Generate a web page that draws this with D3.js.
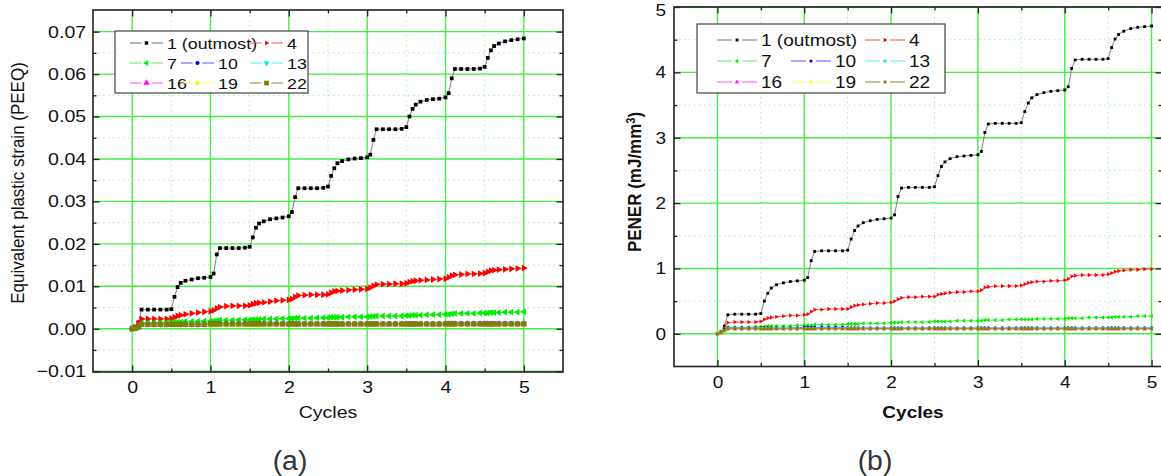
<!DOCTYPE html>
<html>
<head>
<meta charset="utf-8">
<script src="https://cdn.jsdelivr.net/npm/d3@7"></script>
<style>
  body { margin: 0; background: #fff; }
  svg { display: block; font-family: "Liberation Sans", Arial, sans-serif; }
</style>
</head>
<body>
<svg id="fig" width="1161" height="476"></svg>
<script>
// time points (cycles) of the FE output
const cycles = [
  0,0.04,0.08,0.12,0.2,0.28,0.36,0.44,0.5,0.54,0.58,0.62,0.68,0.76,0.84,0.92,
  1,1.04,1.08,1.12,1.2,1.28,1.36,1.44,1.5,1.54,1.58,1.62,1.68,1.76,1.84,1.92,
  2,2.04,2.08,2.12,2.2,2.28,2.36,2.44,2.5,2.54,2.58,2.62,2.68,2.76,2.84,2.92,
  3,3.04,3.08,3.12,3.2,3.28,3.36,3.44,3.5,3.54,3.58,3.62,3.68,3.76,3.84,3.92,
  4,4.04,4.08,4.12,4.2,4.28,4.36,4.44,4.5,4.54,4.58,4.62,4.68,4.76,4.84,4.92,
  5
]

const layers = ['1 (outmost)','4','7','10','13','16','19','22']
const colours = ['#000000','#ff0000','#00ee00','#0000ff','#00e8ff','#ff00ff','#ffff00','#808000']
const lineColours = ['#707070','#ff5050','#50f050','#5050ff','#50f0ff','#ff50ff','#ffff50','#8a8a30']
const shapes = ['square','triR','triL','circle','triD','triU','circle','square']

// (a) PEEQ
const peeq1 = [
  0,0.0005,0.0015,0.0045,0.0045,0.0045,0.0045,0.0045,0.0046,0.0075,0.0098,0.0108,0.0113,0.0116,0.0119,0.012,
  0.0122,0.013,0.0175,0.019,0.019,0.019,0.019,0.0191,0.0193,0.0215,0.0238,0.0248,0.0253,0.0258,0.026,0.0262,
  0.0265,0.0275,0.031,0.0331,0.0331,0.0331,0.0331,0.0332,0.0335,0.036,0.0378,0.039,0.0395,0.0399,0.0401,0.0402,
  0.0404,0.041,0.0445,0.047,0.047,0.047,0.047,0.0471,0.0475,0.05,0.0518,0.0528,0.0535,0.0539,0.0541,0.0542,
  0.0545,0.0555,0.059,0.0612,0.0612,0.0612,0.0612,0.0613,0.0617,0.0638,0.0656,0.0666,0.0672,0.0677,0.068,0.0682,
  0.0684
]
const peeq4 = [
  0,0.0003,0.0012,0.0023,0.0023,0.0023,0.0023,0.0023,0.0024,0.0027,0.003,0.0032,0.0034,0.0036,0.0038,0.004,
  0.0041,0.0043,0.0048,0.0051,0.0053,0.0054,0.0054,0.0054,0.0055,0.0058,0.006,0.0061,0.0062,0.0064,0.0066,0.0067,
  0.0068,0.007,0.0075,0.0078,0.0079,0.008,0.008,0.008,0.0081,0.0085,0.0088,0.0089,0.009,0.0091,0.0092,0.0093,
  0.0094,0.0097,0.0101,0.0104,0.0105,0.0105,0.0106,0.0106,0.0107,0.011,0.0112,0.0113,0.0114,0.0115,0.0116,0.0117,
  0.0118,0.0121,0.0125,0.0127,0.0128,0.0129,0.0129,0.013,0.0131,0.0134,0.0137,0.0138,0.0139,0.014,0.0141,0.0142,
  0.0143
]
const peeq7 = [
  0,0.0002,0.0006,0.0013,0.0014,0.0014,0.0015,0.0015,0.0015,0.0016,0.0016,0.0016,0.0017,0.0017,0.0017,0.0018,
  0.0018,0.0018,0.0019,0.002,0.002,0.002,0.0021,0.0021,0.0021,0.0022,0.0022,0.0022,0.0023,0.0023,0.0023,0.0024,
  0.0024,0.0024,0.0025,0.0025,0.0025,0.0025,0.0026,0.0026,0.0026,0.0027,0.0027,0.0027,0.0027,0.0028,0.0028,0.0028,
  0.0028,0.0029,0.0029,0.003,0.003,0.003,0.003,0.003,0.0031,0.0031,0.0032,0.0032,0.0032,0.0033,0.0033,0.0033,
  0.0034,0.0034,0.0035,0.0036,0.0036,0.0036,0.0036,0.0037,0.0037,0.0037,0.0038,0.0038,0.0038,0.0039,0.0039,0.0039,
  0.004
]
const peeq10 = [
  0,0.0002,0.0006,0.0011,0.0011,0.0011,0.0011,0.0011,0.0011,0.0011,0.0011,0.0011,0.0011,0.0011,0.0011,0.0011,
  0.0012,0.0012,0.0012,0.0012,0.0012,0.0012,0.0012,0.0012,0.0012,0.0012,0.0012,0.0012,0.0012,0.0012,0.0012,0.0012,
  0.0012,0.0012,0.0012,0.0012,0.0012,0.0012,0.0012,0.0012,0.0012,0.0012,0.0012,0.0012,0.0012,0.0012,0.0012,0.0012,
  0.0012,0.0012,0.0012,0.0012,0.0012,0.0012,0.0012,0.0012,0.0012,0.0012,0.0012,0.0012,0.0012,0.0012,0.0012,0.0012,
  0.0013,0.0013,0.0013,0.0013,0.0013,0.0013,0.0013,0.0013,0.0013,0.0013,0.0013,0.0013,0.0013,0.0013,0.0013,0.0013,
  0.0013
]
const peeq13 = [
  0,0.0002,0.0005,0.001,0.001,0.001,0.001,0.001,0.001,0.001,0.001,0.001,0.001,0.001,0.001,0.001,
  0.0011,0.0011,0.0011,0.0011,0.0011,0.0011,0.0011,0.0011,0.0011,0.0011,0.0011,0.0011,0.0011,0.0011,0.0011,0.0011,
  0.0011,0.0011,0.0011,0.0011,0.0011,0.0011,0.0011,0.0011,0.0011,0.0011,0.0011,0.0011,0.0011,0.0011,0.0011,0.0011,
  0.0011,0.0011,0.0011,0.0011,0.0011,0.0011,0.0011,0.0011,0.0011,0.0011,0.0011,0.0011,0.0011,0.0011,0.0011,0.0011,
  0.0012,0.0012,0.0012,0.0012,0.0012,0.0012,0.0012,0.0012,0.0012,0.0012,0.0012,0.0012,0.0012,0.0012,0.0012,0.0012,
  0.0012
]
const peeq16 = [
  0,0.0001,0.0004,0.0009,0.0009,0.0009,0.0009,0.0009,0.0009,0.0009,0.0009,0.0009,0.0009,0.0009,0.0009,0.0009,
  0.001,0.001,0.001,0.001,0.001,0.001,0.001,0.001,0.001,0.001,0.001,0.001,0.001,0.001,0.001,0.001,
  0.001,0.001,0.001,0.001,0.001,0.001,0.001,0.001,0.001,0.001,0.001,0.001,0.001,0.001,0.001,0.001,
  0.001,0.001,0.001,0.001,0.001,0.001,0.001,0.001,0.001,0.001,0.001,0.001,0.001,0.001,0.001,0.001,
  0.0011,0.0011,0.0011,0.0011,0.0011,0.0011,0.0011,0.0011,0.0011,0.0011,0.0011,0.0011,0.0011,0.0011,0.0011,0.0011,
  0.0011
]
const peeq19 = [
  0,0.0001,0.0004,0.0009,0.0009,0.0009,0.0009,0.0009,0.0009,0.0009,0.0009,0.0009,0.0009,0.0009,0.0009,0.0009,
  0.0009,0.0009,0.0009,0.0009,0.0009,0.0009,0.0009,0.0009,0.0009,0.0009,0.0009,0.0009,0.0009,0.0009,0.0009,0.0009,
  0.001,0.001,0.001,0.001,0.001,0.001,0.001,0.001,0.001,0.001,0.001,0.001,0.001,0.001,0.001,0.001,
  0.001,0.001,0.001,0.001,0.001,0.001,0.001,0.001,0.001,0.001,0.001,0.001,0.001,0.001,0.001,0.001,
  0.001,0.001,0.001,0.001,0.001,0.001,0.001,0.001,0.001,0.001,0.001,0.001,0.001,0.001,0.001,0.001,
  0.001
]
const peeq22 = [
  0,0.0001,0.0004,0.001,0.001,0.001,0.001,0.001,0.001,0.001,0.001,0.001,0.001,0.001,0.001,0.001,
  0.0011,0.0011,0.0011,0.0011,0.0011,0.0011,0.0011,0.0011,0.0011,0.0011,0.0011,0.0011,0.0011,0.0011,0.0011,0.0011,
  0.0011,0.0011,0.0011,0.0011,0.0011,0.0011,0.0011,0.0011,0.0011,0.0011,0.0011,0.0011,0.0011,0.0011,0.0011,0.0011,
  0.0011,0.0011,0.0011,0.0011,0.0011,0.0011,0.0011,0.0011,0.0011,0.0011,0.0011,0.0011,0.0011,0.0011,0.0011,0.0011,
  0.0011,0.0011,0.0011,0.0011,0.0011,0.0011,0.0011,0.0011,0.0011,0.0011,0.0011,0.0011,0.0011,0.0011,0.0011,0.0011,
  0.0011
]

// (b) PENER, mJ/mm3
const pener1 = [
  0,0.03,0.12,0.29,0.3,0.3,0.3,0.3,0.31,0.5,0.62,0.7,0.75,0.78,0.8,0.81,
  0.82,0.86,1.12,1.26,1.27,1.27,1.27,1.27,1.28,1.45,1.58,1.65,1.7,1.73,1.75,1.76,
  1.77,1.82,2.1,2.23,2.24,2.24,2.24,2.24,2.25,2.42,2.56,2.63,2.68,2.71,2.72,2.73,
  2.74,2.79,3.08,3.21,3.22,3.22,3.22,3.22,3.23,3.4,3.53,3.61,3.66,3.69,3.71,3.72,
  3.73,3.78,4.06,4.19,4.2,4.2,4.2,4.2,4.21,4.38,4.51,4.58,4.63,4.67,4.69,4.7,
  4.71
]
const pener4 = [
  0,0.02,0.08,0.17,0.18,0.18,0.18,0.18,0.19,0.22,0.24,0.25,0.26,0.27,0.28,0.28,
  0.29,0.3,0.34,0.37,0.37,0.38,0.38,0.38,0.38,0.41,0.43,0.44,0.45,0.46,0.47,0.47,
  0.48,0.5,0.53,0.55,0.56,0.56,0.57,0.57,0.57,0.6,0.61,0.62,0.63,0.64,0.64,0.65,
  0.65,0.67,0.71,0.72,0.73,0.73,0.73,0.73,0.74,0.76,0.78,0.79,0.8,0.8,0.81,0.81,
  0.82,0.84,0.88,0.89,0.9,0.9,0.9,0.9,0.91,0.93,0.95,0.96,0.97,0.98,0.98,0.99,
  0.99
]
const pener7 = [
  0,0.02,0.06,0.1,0.1,0.1,0.1,0.11,0.11,0.11,0.12,0.12,0.12,0.12,0.12,0.13,
  0.13,0.13,0.13,0.14,0.14,0.14,0.14,0.14,0.15,0.15,0.15,0.15,0.16,0.16,0.16,0.16,
  0.17,0.17,0.17,0.18,0.18,0.18,0.18,0.18,0.19,0.19,0.19,0.19,0.19,0.2,0.2,0.2,
  0.2,0.2,0.21,0.21,0.21,0.21,0.22,0.22,0.22,0.22,0.22,0.22,0.23,0.23,0.23,0.23,
  0.23,0.24,0.24,0.24,0.24,0.25,0.25,0.25,0.25,0.25,0.26,0.26,0.26,0.26,0.27,0.27,
  0.27
]
const pener10 = [
  0,0.02,0.06,0.09,0.09,0.09,0.09,0.09,0.09,0.09,0.09,0.09,0.09,0.09,0.09,0.09,
  0.1,0.1,0.1,0.1,0.1,0.1,0.1,0.1,0.09,0.09,0.09,0.09,0.09,0.09,0.09,0.09,
  0.09,0.09,0.09,0.09,0.09,0.09,0.09,0.09,0.09,0.09,0.09,0.09,0.09,0.09,0.09,0.09,
  0.09,0.09,0.09,0.09,0.09,0.09,0.09,0.09,0.09,0.09,0.09,0.09,0.09,0.09,0.09,0.09,
  0.09,0.09,0.09,0.09,0.09,0.09,0.09,0.09,0.09,0.09,0.09,0.09,0.09,0.09,0.09,0.09,
  0.09
]
const pener13 = [
  0,0.02,0.05,0.085,0.085,0.085,0.085,0.085,0.085,0.085,0.085,0.085,0.085,0.085,0.085,0.085,
  0.085,0.085,0.085,0.085,0.085,0.085,0.085,0.085,0.085,0.085,0.085,0.085,0.085,0.085,0.085,0.085,
  0.085,0.085,0.085,0.085,0.085,0.085,0.085,0.085,0.085,0.085,0.085,0.085,0.085,0.085,0.085,0.085,
  0.085,0.085,0.085,0.085,0.085,0.085,0.085,0.085,0.085,0.085,0.085,0.085,0.085,0.085,0.085,0.085,
  0.085,0.085,0.085,0.085,0.085,0.085,0.085,0.085,0.085,0.085,0.085,0.085,0.085,0.085,0.085,0.085,
  0.085
]
const pener16 = [
  0,0.01,0.04,0.07,0.07,0.07,0.07,0.07,0.07,0.07,0.07,0.07,0.07,0.07,0.07,0.07,
  0.07,0.07,0.07,0.07,0.07,0.07,0.07,0.07,0.07,0.07,0.07,0.07,0.07,0.07,0.07,0.07,
  0.07,0.07,0.07,0.07,0.07,0.07,0.07,0.07,0.07,0.07,0.07,0.07,0.07,0.07,0.07,0.07,
  0.07,0.07,0.07,0.07,0.07,0.07,0.07,0.07,0.07,0.07,0.07,0.07,0.07,0.07,0.07,0.07,
  0.07,0.07,0.07,0.07,0.07,0.07,0.07,0.07,0.07,0.07,0.07,0.07,0.07,0.07,0.07,0.07,
  0.07
]
const pener19 = [
  0,0.01,0.045,0.075,0.075,0.075,0.075,0.075,0.075,0.075,0.075,0.075,0.075,0.075,0.075,0.075,
  0.075,0.075,0.075,0.075,0.075,0.075,0.075,0.075,0.075,0.075,0.075,0.075,0.075,0.075,0.075,0.075,
  0.075,0.075,0.075,0.075,0.075,0.075,0.075,0.075,0.075,0.075,0.075,0.075,0.075,0.075,0.075,0.075,
  0.075,0.075,0.075,0.075,0.075,0.075,0.075,0.075,0.075,0.075,0.075,0.075,0.075,0.075,0.075,0.075,
  0.075,0.075,0.075,0.075,0.075,0.075,0.075,0.075,0.075,0.075,0.075,0.075,0.075,0.075,0.075,0.075,
  0.075
]
const pener22 = [
  0,0.015,0.05,0.08,0.08,0.08,0.08,0.08,0.08,0.08,0.08,0.08,0.08,0.08,0.08,0.08,
  0.08,0.08,0.08,0.08,0.08,0.08,0.08,0.08,0.08,0.08,0.08,0.08,0.08,0.08,0.08,0.08,
  0.08,0.08,0.08,0.08,0.08,0.08,0.08,0.08,0.08,0.08,0.08,0.08,0.08,0.08,0.08,0.08,
  0.08,0.08,0.08,0.08,0.08,0.08,0.08,0.08,0.08,0.08,0.08,0.08,0.08,0.08,0.08,0.08,
  0.08,0.08,0.08,0.08,0.08,0.08,0.08,0.08,0.08,0.08,0.08,0.08,0.08,0.08,0.08,0.08,
  0.08
]

const peeq = [peeq1, peeq4, peeq7, peeq10, peeq13, peeq16, peeq19, peeq22]
const pener = [pener1, pener4, pener7, pener10, pener13, pener16, pener19, pener22]

// ticks
const cycleTicks = [0, 1, 2, 3, 4, 5]
const cycleMinor = [0.5, 1.5, 2.5, 3.5, 4.5]
const peeqTicks = [-0.01, 0, 0.01, 0.02, 0.03, 0.04, 0.05, 0.06, 0.07]
const peeqMinor = [-0.005, 0.005, 0.015, 0.025, 0.035, 0.045, 0.055, 0.065]
const penerTicks = [0, 1, 2, 3, 4, 5]
const penerMinor = [0.5, 1.5, 2.5, 3.5, 4.5]

const svg = d3.select('#fig')
const FONT = '"Liberation Sans", Arial, sans-serif'

const symbolPath = (shape, size) => {
  const type = shape == 'square' ? d3.symbolSquare : shape == 'circle' ? d3.symbolCircle : d3.symbolTriangle
  return d3.symbol().type(type).size(size)()
}
const rotation = { triR: 90, triL: -90, triD: 180, triU: 0, square: 0, circle: 0 }

const drawPanel = p => {
  const g = svg.append('g')
  const x = d3.scaleLinear().domain(p.xDomain).range([p.left, p.right])
  const y = d3.scaleLinear().domain(p.yDomain).range([p.bottom, p.top])

  // grid
  const grid = g.append('g')
  grid.selectAll('.vmin').data(p.xMinor).enter().append('line')
    .attr('x1', x).attr('x2', x).attr('y1', p.top).attr('y2', p.bottom)
    .attr('stroke', '#a8eea8').attr('stroke-width', 1).attr('stroke-dasharray', '1.5,3.5')
  grid.selectAll('.hmin').data(p.yMinor).enter().append('line')
    .attr('y1', y).attr('y2', y).attr('x1', p.left).attr('x2', p.right)
    .attr('stroke', '#a8eea8').attr('stroke-width', 1).attr('stroke-dasharray', '1.5,3.5')
  grid.selectAll('.vmaj').data(p.xTicks).enter().append('line')
    .attr('x1', x).attr('x2', x).attr('y1', p.top).attr('y2', p.bottom)
    .attr('stroke', '#44ee44').attr('stroke-width', 1.4)
  grid.selectAll('.hmaj').data(p.yTicks.filter(v => v > p.yDomain[0] + 1e-9)).enter().append('line')
    .attr('y1', y).attr('y2', y).attr('x1', p.left).attr('x2', p.right)
    .attr('stroke', '#44ee44').attr('stroke-width', 1.4)

  // series
  const line = d3.line().x(d => x(d[0])).y(d => y(d[1]))
  p.values.forEach((vals, i) => {
    const pts = cycles.map((c, k) => [c, vals[k]])
    g.append('path').datum(pts)
      .attr('d', line).attr('fill', 'none')
      .attr('stroke', lineColours[i]).attr('stroke-width', 0.9)
    g.append('g').selectAll('path').data(pts).enter().append('path')
      .attr('d', symbolPath(shapes[i], p.markSize[i]))
      .attr('transform', d => `translate(${x(d[0])},${y(d[1])}) rotate(${rotation[shapes[i]]})`)
      .attr('fill', colours[i])
  })

  // legend
  const lg = g.append('g')
  lg.append('rect').attr('x', p.legend.x).attr('y', p.legend.y)
    .attr('width', p.legend.w).attr('height', p.legend.h)
    .attr('fill', '#fff').attr('stroke', '#444').attr('stroke-width', 1.2)
  p.legend.items.forEach(([i, col, row]) => {
    const lx = p.legend.cols[col], ly = p.legend.rows[row], L = p.legend.len
    const mx = lx + L / 2
    lg.append('line').attr('x1', lx).attr('x2', mx - 5).attr('y1', ly).attr('y2', ly)
      .attr('stroke', lineColours[i]).attr('stroke-width', 1)
    lg.append('line').attr('x1', mx + 5).attr('x2', lx + L).attr('y1', ly).attr('y2', ly)
      .attr('stroke', lineColours[i]).attr('stroke-width', 1)
    lg.append('path').attr('d', symbolPath(shapes[i], p.legend.markSize[i]))
      .attr('transform', `translate(${mx},${ly}) rotate(${rotation[shapes[i]]})`)
      .attr('fill', colours[i])
    lg.append('text').attr('transform', `translate(${lx + L + 4},${ly + 6}) scale(${p.sx},1)`)
      .attr('font-size', p.legend.font).attr('font-family', FONT).attr('fill', '#111')
      .text(layers[i])
  })

  // frame and ticks
  const tickStyle = sel => {
    sel.select('.domain').remove()
    sel.selectAll('line').attr('stroke', '#222').attr('stroke-width', 1.3)
    sel.selectAll('text').attr('font-size', p.tickFont).attr('font-family', FONT)
      .attr('fill', '#111').attr('font-weight', 'normal')
      .attr('transform', `scale(${p.sx},1)`)
  }
  const axes = [
    [d3.axisBottom(x), `translate(0,${p.bottom})`, p.xTicks, p.xMinor, true],
    [d3.axisTop(x), `translate(0,${p.top})`, p.xTicks, p.xMinor, false],
    [d3.axisLeft(y), `translate(${p.left},0)`, p.yTicks, p.yMinor, true],
    [d3.axisRight(y), `translate(${p.right},0)`, p.yTicks, p.yMinor, false]
  ]
  axes.forEach(([ax, tr, major, minor]) => {
    g.append('g').attr('transform', tr)
      .call(ax.tickValues(minor).tickSize(-3.5).tickSizeOuter(0).tickFormat(''))
      .call(tickStyle)
  })
  axes.forEach(([ax, tr, major, minor, labelled]) => {
    const vert = tr.indexOf('(0,') < 0
    ax.tickValues(major).tickSize(-6.5).tickSizeOuter(0).tickPadding(vert ? p.padY : p.padX)
      .tickFormat(labelled ? p.fmt(vert) : '')
    const ag = g.append('g').attr('transform', tr).call(ax).call(tickStyle)
    // keep the top label clear of the page edge
    if (vert && labelled) ag.selectAll('text').filter(d => y(d) < p.top + 4).attr('dy', '0.5em')
  })
  g.append('rect').attr('x', p.left).attr('y', p.top)
    .attr('width', p.right - p.left).attr('height', p.bottom - p.top)
    .attr('fill', 'none').attr('stroke', '#222').attr('stroke-width', 1.6)

  return g
}

// (a)
drawPanel({
  left: 93, right: 563, top: 10, bottom: 372,
  xDomain: [-0.5, 5.5], yDomain: [-0.0102, 0.0751],
  xTicks: cycleTicks, xMinor: cycleMinor, yTicks: peeqTicks, yMinor: peeqMinor,
  values: peeq, markSize: [14, 20, 20, 16, 18, 18, 16, 26],
  sx: 1.15, tickFont: 17, padX: 9, padY: 6,
  fmt: vert => vert ? d3.format('.2f') : d3.format('d'),
  legend: {
    x: 115, y: 31, w: 193, h: 62, font: 15.5, len: 33,
    cols: [130, 181, 250], rows: [43, 63, 83],
    markSize: [12, 10, 16, 14, 16, 18, 16, 22],
    items: [[0, 0, 0], [1, 2, 0], [2, 0, 1], [3, 1, 1], [4, 2, 1], [5, 0, 2], [6, 1, 2], [7, 2, 2]]
  }
})

// (b)
drawPanel({
  left: 674, right: 1162, top: 7, bottom: 366.5,
  xDomain: [-0.5, 5.12], yDomain: [-0.5, 5],
  xTicks: cycleTicks, xMinor: cycleMinor, yTicks: penerTicks, yMinor: penerMinor,
  values: pener, markSize: [8, 8, 8, 8, 8, 8, 8, 8],
  sx: 1.12, tickFont: 17, padX: 9, padY: 7,
  fmt: vert => d3.format('d'),
  legend: {
    x: 697, y: 24, w: 248, h: 69, font: 17, len: 40,
    cols: [717, 791, 865], rows: [40, 61, 82],
    markSize: [8, 8, 8, 8, 8, 8, 8, 8],
    items: [[0, 0, 0], [1, 2, 0], [2, 0, 1], [3, 1, 1], [4, 2, 1], [5, 0, 2], [6, 1, 2], [7, 2, 2]]
  }
})

// titles
const title = (x, y, s, size, opts = {}) => svg.append('text')
  .attr('transform', `translate(${x},${y})` + (opts.rot ? ' rotate(-90)' : '') + ` scale(${opts.sx || 1},${opts.sy || 1})`)
  .attr('text-anchor', 'middle').attr('font-size', size).attr('font-family', FONT)
  .attr('font-weight', opts.bold ? 'bold' : 'normal').attr('fill', opts.fill || '#111')
  .text(s)

title(24, 183, 'Equivalent plastic strain (PEEQ)', 17, { rot: true, sy: 1.12 })
title(328, 418, 'Cycles', 17, { sx: 1.15 })
title(290, 470, '(a)', 27, { fill: '#333', sx: 1.05 })

const pt = title(641, 182, 'PENER (mJ/mm', 17, { rot: true, bold: true, sy: 1.1 })
pt.append('tspan').attr('baseline-shift', 'super').attr('font-size', 11).text('3')
pt.append('tspan').text(')')
title(913, 418, 'Cycles', 17, { bold: true, sx: 1.12 })
title(875, 470, '(b)', 27, { fill: '#333', sx: 1.05 })
</script>
</body>
</html>
